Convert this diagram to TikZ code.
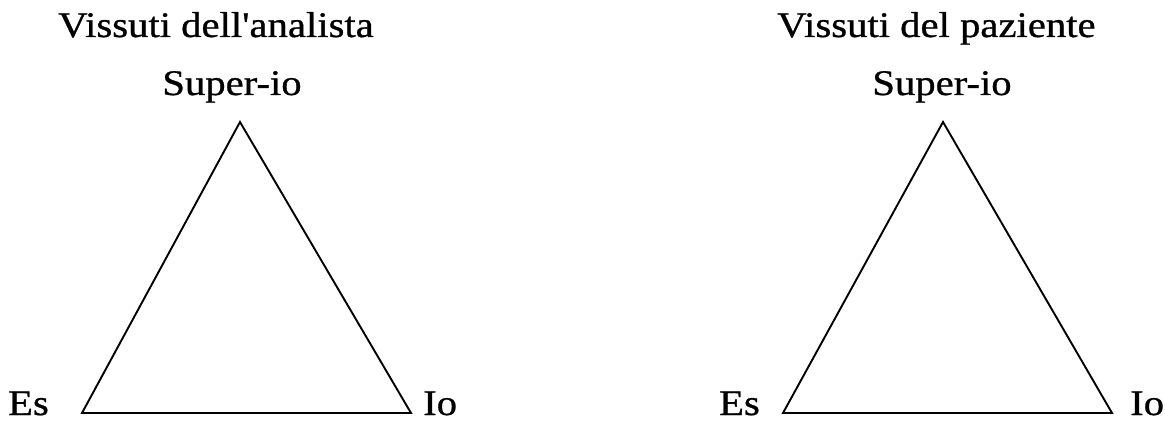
\documentclass[tikz,border=0pt]{standalone}
\usepackage{fontspec}
\setmainfont{Liberation Serif}[Ligatures=TeXOff,FakeStretch=1.13,FakeBold=0.8]
\begin{document}
\begin{tikzpicture}[x=1pt,y=1pt,
  lbl/.style={inner sep=0pt,font=\fontsize{36}{40}\selectfont},
  tri/.style={line width=1.9pt,line join=miter}]
\useasboundingbox (0,0) rectangle (1165,421);
% left
\node[lbl,anchor=base west] (t1) at (58,384) {Vissuti dell'analista};
\node[lbl,anchor=base] (s1) at (232,326) {Super-io};
\node[lbl,anchor=base east] (e1) at (49,6) {Es};
\node[lbl,anchor=base west] (i1) at (423,6) {Io};
\coordinate (a1) at (240,299);
\coordinate (b1) at (82,8);
\coordinate (c1) at (411,8);
\draw[tri] (a1) -- (b1) -- (c1) -- cycle;
% right
\node[lbl,anchor=base west] (t2) at (777,384) {Vissuti del paziente};
\node[lbl,anchor=base] (s2) at (942,326) {Super-io};
\node[lbl,anchor=base east] (e2) at (760,6) {Es};
\node[lbl,anchor=base west] (i2) at (1130,6) {Io};
\coordinate (a2) at (943,299);
\coordinate (b2) at (783,8);
\coordinate (c2) at (1112,8);
\draw[tri] (a2) -- (b2) -- (c2) -- cycle;
\end{tikzpicture}
\end{document}
